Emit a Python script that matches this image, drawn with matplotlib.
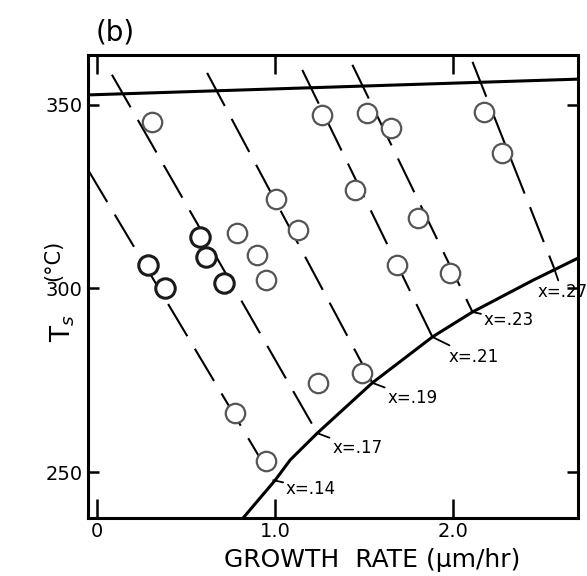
import numpy as np
import matplotlib
matplotlib.use('Agg')
import matplotlib.pyplot as plt

# ---- data (growth rate in um/hr, Ts in deg C) ----
# open circles, darker group and lighter group
dark_rate = [0.287, 0.382, 0.579, 0.612, 0.713]
dark_ts = [306.4, 300.1, 314.0, 308.6, 301.5]

light_rate = [0.787, 0.899, 0.949, 1.006, 1.129, 0.775, 0.949, 1.242, 1.489,
              0.309, 1.264, 1.449, 1.685, 1.517, 1.652, 1.803, 1.983, 2.169, 2.275]
light_ts = [315.1, 309.1, 302.3, 324.4, 315.9, 266.1, 253.0, 274.3, 277.0,
            345.4, 347.3, 326.8, 306.4, 347.8, 343.7, 319.2, 304.2, 348.1, 336.9]

# constant-composition dashed lines: (start, end on the solid curve)
comp_labels = ['x=.14', 'x=.17', 'x=.19', 'x=.21', 'x=.23', 'x=.27']
line_rate_start = [-0.05, 0.084, 0.618, 1.152, 1.433, 2.107]
line_ts_start = [332.3, 358.2, 358.7, 359.5, 360.9, 361.7]
line_rate_end = [0.989, 1.236, 1.545, 1.882, 2.107, 2.562]
line_ts_end = [247.8, 260.6, 274.3, 286.8, 293.6, 305.9]
label_rate = [1.06, 1.32, 1.63, 1.97, 2.17, 2.47]
label_ts = [245.5, 256.5, 270.2, 281.3, 291.4, 299.0]

# solid boundary curve
curve_rate = [0.82, 1.0, 1.084, 1.236, 1.545, 1.882, 2.107, 2.449, 2.713]
curve_ts = [237.5, 247.8, 253.3, 260.6, 274.3, 286.8, 293.6, 302.3, 308.6]

# upper solid line
top_rate = [-0.05, 2.70]
top_ts = [352.7, 357.0]

# ---- figure ----
fig = plt.figure(figsize=(5.87, 5.76), dpi=100)
ax = fig.add_axes([0.150, 0.1007, 0.835, 0.804])

for x0, y0, x1, y1 in zip(line_rate_start, line_ts_start, line_rate_end, line_ts_end):
    ax.plot([x0, x1], [y0, y1], color='black', lw=1.5, linestyle=(0, (18, 7)))

ax.plot(curve_rate, curve_ts, color='black', lw=2.2)
ax.plot(top_rate, top_ts, color='black', lw=2.2)

ax.plot(light_rate, light_ts, 'o', ms=14, mfc='white', mec='#555555', mew=1.6)
ax.plot(dark_rate, dark_ts, 'o', ms=14, mfc='white', mec='#1a1a1a', mew=2.2)

for lab, xe, ye, xl, yl in zip(comp_labels, line_rate_end, line_ts_end, label_rate, label_ts):
    ax.annotate(lab, xy=(xe, ye), xytext=(xl, yl), fontsize=12, ha='left', va='center',
                arrowprops=dict(arrowstyle='-', lw=1.3, color='black',
                                shrinkA=0, shrinkB=0))

ax.set_xlim(-0.05, 2.70)
ax.set_ylim(237.5, 363.6)
ax.set_xticks([0, 1.0, 2.0])
ax.set_xticklabels(['0', '1.0', '2.0'])
ax.set_yticks([250, 300, 350])
ax.tick_params(axis='x', direction='in', length=14, width=1.8, labelsize=14, pad=3,
               top=True)
ax.tick_params(axis='y', direction='in', length=8, width=1.8, labelsize=14, pad=4,
               right=True)
for sp in ax.spines.values():
    sp.set_linewidth(2.2)

ax.set_xlabel('GROWTH  RATE (μm/hr)', fontsize=18)
ax.xaxis.set_label_coords(0.58, -0.065)

# y label drawn in two parts, around the 300 tick label as in the original
fig.text(0.107, 0.430, 'T$_s$', rotation=90, fontsize=19, ha='center', va='center')
fig.text(0.090, 0.548, '(°C)', rotation=90, fontsize=15, ha='center', va='center')
fig.text(0.196, 0.943, '(b)', fontsize=20, ha='center', va='center')

plt.savefig('out.png', dpi=100)
